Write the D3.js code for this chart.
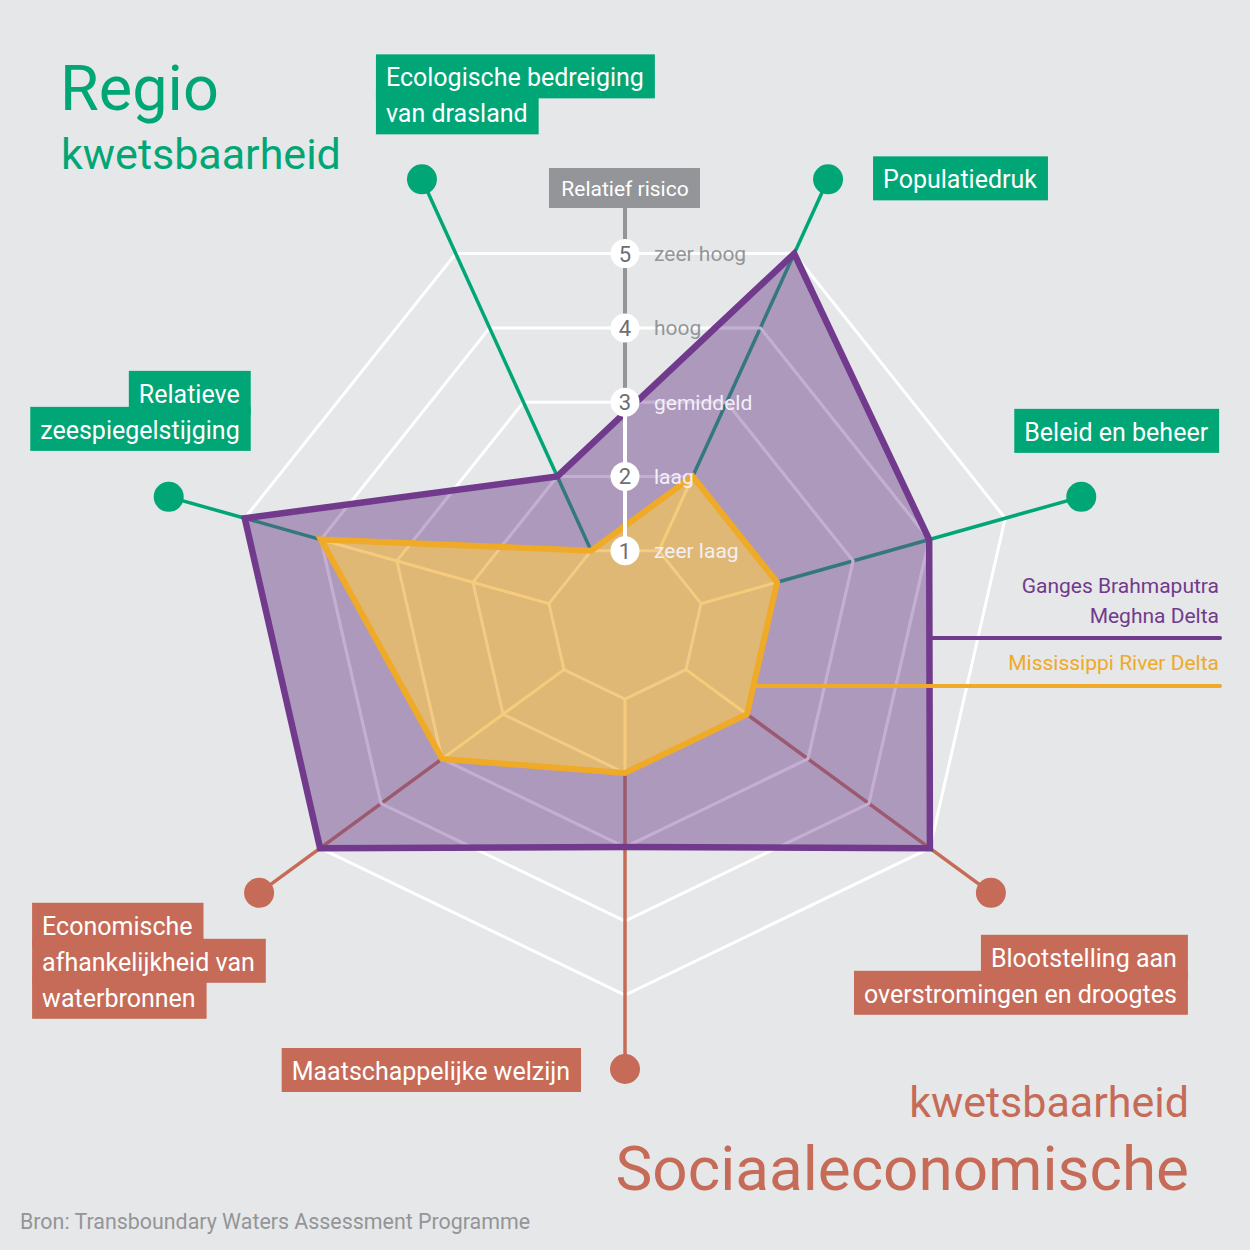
<!DOCTYPE html>
<html><head><meta charset="utf-8">
<script src="https://cdn.jsdelivr.net/npm/d3@7"></script>
<style>
html,body{margin:0;padding:0;background:#e6e7e8;}
svg{display:block;font-family:Roboto,"Liberation Sans",sans-serif;}
</style></head><body>
<svg id="chart" width="1250" height="1250"></svg>
<script>
// ---------- DATA ----------
const categories = ["Populatiedruk", "Beleid en beheer", "Blootstelling aan overstromingen en droogtes", "Maatschappelijke welzijn", "Economische afhankelijkheid van waterbronnen", "Relatieve zeespiegelstijging", "Ecologische bedreiging van drasland"];
const categoryLines = [["Populatiedruk"], ["Beleid en beheer"], ["Blootstelling aan", "overstromingen en droogtes"], ["Maatschappelijke welzijn"], ["Economische", "afhankelijkheid van", "waterbronnen"], ["Relatieve", "zeespiegelstijging"], ["Ecologische bedreiging", "van drasland"]];
const categoryGroups = ["regio", "regio", "socio", "socio", "socio", "regio", "regio"];
const seriesNames = [["Ganges Brahmaputra", "Meghna Delta"], ["Mississippi River Delta"]];
const gbmValues = [5, 4, 5, 3, 5, 5, 2];
const mississippiValues = [2, 2, 2, 2, 3, 4, 1];
const tickValues = [1, 2, 3, 4, 5];
const tickLabels = ["zeer laag", "laag", "gemiddeld", "hoog", "zeer hoog"];
const scaleTitle = "Relatief risico";
const titleTop = ["Regio", "kwetsbaarheid"];
const titleBottom = ["kwetsbaarheid", "Sociaaleconomische"];
const sourceText = "Bron: Transboundary Waters Assessment Programme";

// ---------- LAYOUT / STYLE ----------
const cx = 625, cy = 625;
const colorRegio = "#00a676", colorSocio = "#c66b57";
const purple = "#713a8c", yellow = "#efaa27", gray = "#939598";
const groupColor = g => g === "regio" ? colorRegio : colorSocio;
const labelLayout = [
  {dx: 55, dy: 9, anchor: "start"},
  {dx: -57, dy: -56, anchor: "start"},
  {dx: 186, dy: 74, anchor: "end"},
  {dx: -55, dy: 11, anchor: "end"},
  {dx: -217, dy: 42, anchor: "start"},
  {dx: 71, dy: -94, anchor: "end"},
  {dx: -36, dy: -93, anchor: "start"}
];

const rScale = d3.scaleLinear().domain([0, 5]).range([0, 390]);
const liftScale = d3.scaleLinear().domain([0, 5]).range([0, 20]);
const n = categories.length;
const angle = i => (180 / n + i * 360 / n) * Math.PI / 180;
const pt = (i, v) => [cx + rScale(v) * Math.sin(angle(i)), cy - liftScale(v) - rScale(v) * Math.cos(angle(i))];
const tickY = v => cy - liftScale(v) - rScale(v) * Math.cos(Math.PI / n);

const svg = d3.select("#chart");
svg.append("rect").attr("width", 1250).attr("height", 1250).attr("fill", "#e6e7e8");

const closed = d3.line().curve(d3.curveLinearClosed);
const ringPts = v => d3.range(n).map(i => pt(i, v));
const gbmPts = gbmValues.map((v, i) => pt(i, v));
const misPts = mississippiValues.map((v, i) => pt(i, v));

// clip paths
const defs = svg.append("defs");
defs.append("clipPath").attr("id", "clipP").append("path").attr("d", closed(gbmPts));
defs.append("clipPath").attr("id", "clipY").append("path").attr("d", closed(misPts));

// white rings
svg.append("g").selectAll("path").data(tickValues).join("path")
  .attr("d", v => closed(ringPts(v))).attr("fill", "none")
  .attr("stroke", "#fff").attr("stroke-width", 3);

// colored axes
svg.append("g").selectAll("line").data(d3.range(n)).join("line")
  .attr("x1", i => pt(i, mississippiValues[i])[0]).attr("y1", i => pt(i, mississippiValues[i])[1])
  .attr("x2", i => pt(i, 6)[0]).attr("y2", i => pt(i, 6)[1])
  .attr("stroke", i => groupColor(categoryGroups[i])).attr("stroke-width", 3.5);

// fills
svg.append("path").attr("d", closed(gbmPts)).attr("fill", "#6e4689").attr("fill-opacity", 0.48);
svg.append("path").attr("d", closed(misPts)).attr("fill", "#e8bd68").attr("fill-opacity", 0.85);

// grid overlays
const gP = svg.append("g").attr("clip-path", "url(#clipP)");
gP.selectAll("path").data(tickValues).join("path")
  .attr("d", v => closed(ringPts(v))).attr("fill", "none")
  .attr("stroke", "#c4afd3").attr("stroke-width", 3);
const gY = svg.append("g").attr("clip-path", "url(#clipY)");
gY.selectAll("path").data(tickValues).join("path")
  .attr("d", v => closed(ringPts(v))).attr("fill", "none")
  .attr("stroke", "#f6cc7c").attr("stroke-width", 3);
gY.selectAll("line").data(d3.range(n)).join("line")
  .attr("x1", i => pt(i, 1)[0]).attr("y1", i => pt(i, 1)[1])
  .attr("x2", i => pt(i, mississippiValues[i])[0]).attr("y2", i => pt(i, mississippiValues[i])[1])
  .attr("stroke", "#f6cc7c").attr("stroke-width", 3);

// series strokes
svg.append("path").attr("d", closed(gbmPts)).attr("fill", "none").attr("stroke", purple).attr("stroke-width", 6.5).attr("stroke-linejoin", "miter");
svg.append("path").attr("d", closed(misPts)).attr("fill", "none").attr("stroke", yellow).attr("stroke-width", 6).attr("stroke-linejoin", "miter");

// legend
function edgeX(points, y) {
  let best = -Infinity;
  for (let k = 0; k < points.length; k++) {
    const a = points[k], b = points[(k + 1) % points.length];
    if ((a[1] - y) * (b[1] - y) <= 0 && a[1] !== b[1]) {
      const t = (y - a[1]) / (b[1] - a[1]);
      best = Math.max(best, a[0] + t * (b[0] - a[0]));
    }
  }
  return best;
}
const legendRight = 1220;
const legend = [
  {names: seriesNames[0], color: purple, pts: gbmPts, base: 593, lineY: 638},
  {names: seriesNames[1], color: yellow, pts: misPts, base: 670, lineY: 686}
];
legend.forEach(L => {
  svg.append("line").attr("x1", edgeX(L.pts, L.lineY)).attr("x2", legendRight)
    .attr("y1", L.lineY).attr("y2", L.lineY).attr("stroke", L.color).attr("stroke-width", 4).attr("stroke-linecap", "round");
  L.names.forEach((t, k) => svg.append("text").attr("x", legendRight - 1).attr("y", L.base + k * 30)
    .attr("text-anchor", "end").attr("font-size", 21).attr("fill", L.color).text(t));
});

// scale axis
svg.append("rect").attr("x", 549).attr("y", 168).attr("width", 151).attr("height", 40).attr("fill", gray);
svg.append("text").attr("x", 625).attr("y", 196).attr("text-anchor", "middle").attr("font-size", 21).attr("fill", "#fff").text(scaleTitle);
svg.append("line").attr("x1", cx).attr("x2", cx).attr("y1", 208).attr("y2", tickY(3)).attr("stroke", gray).attr("stroke-width", 4);
svg.append("line").attr("x1", cx).attr("x2", cx).attr("y1", tickY(3)).attr("y2", tickY(1)).attr("stroke", "#fff").attr("stroke-width", 4);
const ticks = svg.append("g").selectAll("g").data(tickValues).join("g").attr("transform", v => `translate(${cx},${tickY(v)})`);
ticks.append("circle").attr("r", 14.5).attr("fill", "#fff");
ticks.append("text").attr("text-anchor", "middle").attr("dy", "0.36em").attr("font-size", 22).attr("fill", "#6d6e71").text(v => v);
ticks.append("text").attr("x", 29).attr("dy", "0.36em").attr("font-size", 21)
  .attr("fill", (v, k) => d3.polygonContains(gbmPts, [cx + 45, tickY(v)]) ? "#f4eff6" : gray)
  .text((v, k) => tickLabels[k]);

// dots
svg.append("g").selectAll("circle").data(d3.range(n)).join("circle")
  .attr("cx", i => pt(i, 6)[0]).attr("cy", i => pt(i, 6)[1]).attr("r", 15)
  .attr("fill", i => groupColor(categoryGroups[i]));

// category labels
const lineH = 36;
d3.range(n).forEach(i => {
  const d = pt(i, 6), L = labelLayout[i];
  const x = d[0] + L.dx, y0 = d[1] + L.dy;
  const g = svg.append("g");
  const rects = g.append("g");
  const texts = g.selectAll("text").data(categoryLines[i]).join("text")
    .attr("x", x).attr("y", (t, k) => y0 + k * lineH).attr("text-anchor", L.anchor)
    .attr("font-size", 25).attr("fill", "#fff").text(t => t);
  texts.each(function(t, k) {
    const w = this.getComputedTextLength();
    const left = L.anchor === "start" ? x - 10 : x - w - 10;
    rects.append("rect").attr("x", left).attr("y", y0 + k * lineH - 32).attr("width", w + 21).attr("height", 44)
      .attr("fill", groupColor(categoryGroups[i]));
  });
});

// titles
svg.append("text").attr("x", 60).attr("y", 110).attr("font-size", 63).attr("fill", colorRegio).text(titleTop[0]);
svg.append("text").attr("x", 61).attr("y", 169).attr("font-size", 43).attr("fill", colorRegio).text(titleTop[1]);
svg.append("text").attr("x", 1189).attr("y", 1117).attr("text-anchor", "end").attr("font-size", 43).attr("fill", colorSocio).text(titleBottom[0]);
svg.append("text").attr("x", 1189).attr("y", 1190).attr("text-anchor", "end").attr("font-size", 62).attr("fill", colorSocio).text(titleBottom[1]);
svg.append("text").attr("x", 20).attr("y", 1229).attr("font-size", 21.4).attr("fill", gray).text(sourceText);
</script>
</body></html>
